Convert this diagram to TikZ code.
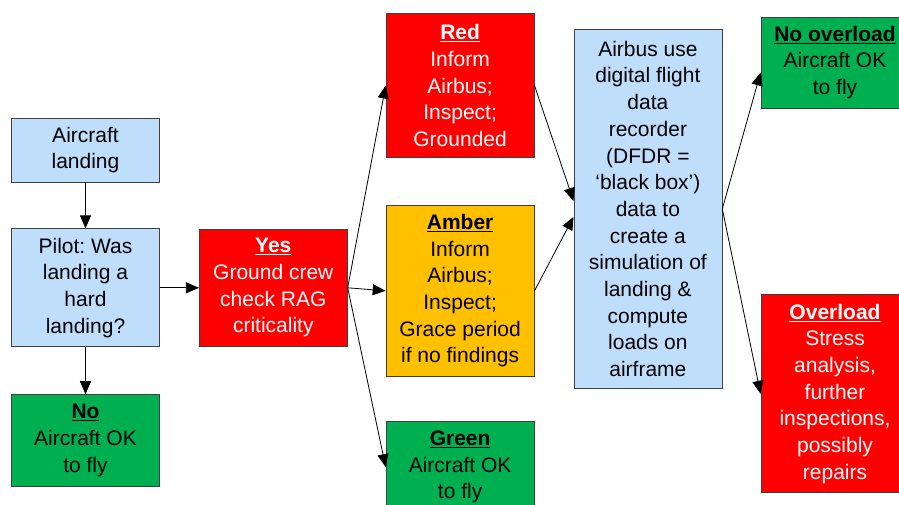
\documentclass[tikz,border=0pt]{standalone}
\usepackage{fontspec}
\setmainfont{Liberation Sans}
\usepackage{xcolor}
\usepackage{tikz}
\usetikzlibrary{arrows.meta,positioning,calc}
\definecolor{boxblue}{RGB}{190,222,252}
\definecolor{boxred}{RGB}{255,0,0}
\definecolor{boxamber}{RGB}{255,192,0}
\definecolor{boxgreen}{RGB}{0,176,80}
\newcommand{\head}[1]{\underline{\textbf{#1}}}
\frenchspacing

\begin{document}
\begin{tikzpicture}[
  x=1pt, y=-1pt,
  box/.style={rectangle, draw=black!75, line width=0.8pt, minimum width=148pt, align=center, inner sep=2pt, font=\fontsize{21}{26.7}\selectfont},
  bluebox/.style={box, fill=boxblue, text=black},
  redbox/.style={box, fill=boxred, text=white},
  amberbox/.style={box, fill=boxamber, text=black},
  greenbox/.style={box, fill=boxgreen, text=black},
  arrow/.style={-{Triangle[length=13pt,width=11pt]}, line width=0.8pt, black}
]
\clip (0,0) rectangle (899,505);

% Left column: landing and pilot decision
\node[bluebox, minimum height=64pt] (landing) at (85.5,150) {Aircraft\\landing};
\node[bluebox, minimum height=118pt, below=46pt of landing] (pilot) {Pilot: Was\\landing a\\hard\\landing?};
\node[greenbox, minimum height=92pt, below=47pt of pilot] (no) {\head{No}\\Aircraft OK\\to fly};

% Ground crew check
\node[redbox, minimum height=117pt, right=39pt of pilot] (yes) {\head{Yes}\\Ground crew\\check RAG\\criticality};

% RAG outcomes
\node[amberbox, minimum height=171pt, right=38pt of yes, yshift=-3pt] (amber) {\head{Amber}\\Inform\\Airbus;\\Inspect;\\Grace period\\if no findings};
\node[redbox, minimum height=144pt, above=47pt of amber] (red) {\head{Red}\\Inform\\Airbus;\\Inspect;\\Grounded};
\node[greenbox, minimum height=92pt, below=44pt of amber] (green) {\head{Green}\\Aircraft OK\\to fly};

% Airbus simulation
\node[bluebox, minimum height=358pt, right=39pt of amber.north east, yshift=-4pt] (dfdr) {Airbus use\\digital flight\\data\\recorder\\(DFDR =\\‘black box’)\\data to\\create a\\simulation of\\landing \&\\compute\\loads on\\airframe};

% Load outcomes
\node[greenbox, minimum height=91pt] (noover) at (835,62.5) {\head{No overload}\\Aircraft OK\\to fly};
\node[redbox, minimum height=198pt, below=186pt of noover] (over) {\head{Overload}\\Stress\\analysis,\\further\\inspections,\\possibly\\repairs};

% Arrows
\draw[arrow] (landing) -- (pilot);
\draw[arrow] (pilot) -- (no);
\draw[arrow] (pilot) -- (yes);
\draw[arrow] (yes.east) -- (red.west);
\draw[arrow] (yes.east) -- (amber.west);
\draw[arrow] (yes.east) -- (green.west);
\draw[arrow] (red.east) -- ([yshift=8pt]dfdr.west);
\draw[arrow] (amber.east) -- ([yshift=-8pt]dfdr.west);
\draw[arrow] (dfdr.east) -- ([yshift=-10pt]noover.west);
\draw[arrow] (dfdr.east) -- (over.west);

\end{tikzpicture}
\end{document}
